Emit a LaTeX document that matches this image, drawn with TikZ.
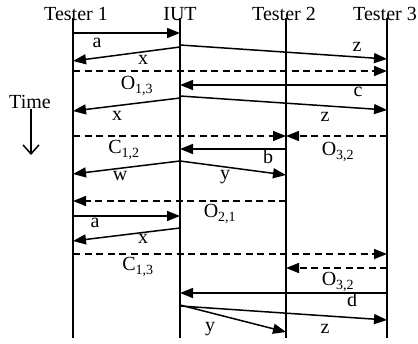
\documentclass[tikz,border=0pt]{standalone}
\usepackage{fontspec}
\setmainfont{Liberation Serif}
\usetikzlibrary{arrows.meta}

\begin{document}
\begin{tikzpicture}[x=1pt,y=-1pt]
  \useasboundingbox (0,0) rectangle (418,343);
  \tikzset{LifeStyle/.style={line width=1.6pt},
           MsgStyle/.style={line width=1.5pt,-{Triangle[length=13pt,width=10pt]}},
           CtrlStyle/.style={MsgStyle,dash pattern=on 7pt off 4.5pt},
           LabelStyle/.style={inner sep=0pt,font=\fontsize{20}{20}\selectfont}}
  % headers
  \node[LabelStyle,anchor=base] (T1) at (76,20) {Tester 1};
  \node[LabelStyle,anchor=base] (IUT) at (180,20) {IUT};
  \node[LabelStyle,anchor=base] (T2) at (284,20) {Tester 2};
  \node[LabelStyle,anchor=base] (T3) at (385,20) {Tester 3};
  % lifelines
  \foreach \n/\x in {T1/73,IUT/180,T2/286,T3/387}{
    \coordinate (\n top) at (\x,18);
    \coordinate (\n bot) at (\x,338);
    \draw[LifeStyle] (\n top) -- (\n bot);
  }
  % time
  \node[LabelStyle] (time) at (30,102) {Time};
  \coordinate (time1) at (31,109);
  \coordinate (time2) at (31,155);
  \draw[line width=1.5pt,-{Straight Barb[length=9pt,width=16pt]}] (time1) -- (time2);
  % event points
  \coordinate (a1s) at (73,33);   \coordinate (a1e) at (180,33);
  \coordinate (x1s) at (180,47);  \coordinate (x1e) at (73,61);
  \coordinate (z1s) at (180,45);  \coordinate (z1e) at (387,59);
  \coordinate (o13s) at (73,71);  \coordinate (o13e) at (387,71);
  \coordinate (cs) at (387,85);   \coordinate (ce) at (180,85);
  \coordinate (x2s) at (180,98);  \coordinate (x2e) at (73,111);
  \coordinate (z2s) at (180,96);  \coordinate (z2e) at (387,110);
  \coordinate (c12s) at (73,136); \coordinate (c12e) at (286,136);
  \coordinate (o32s) at (387,136);\coordinate (o32e) at (286,136);
  \coordinate (bs) at (286,149);  \coordinate (be) at (180,149);
  \coordinate (ws) at (180,161);  \coordinate (we) at (73,174);
  \coordinate (y1s) at (180,161); \coordinate (y1e) at (286,175);
  \coordinate (o21s) at (286,201);\coordinate (o21e) at (73,201);
  \coordinate (a2s) at (73,216);  \coordinate (a2e) at (180,216);
  \coordinate (x3s) at (180,228); \coordinate (x3e) at (73,241);
  \coordinate (c13s) at (73,254); \coordinate (c13e) at (387,254);
  \coordinate (o32bs) at (387,268);\coordinate (o32be) at (286,268);
  \coordinate (ds) at (387,293);  \coordinate (de) at (180,293);
  \coordinate (y2s) at (180,305); \coordinate (y2e) at (286,332);
  \coordinate (z3s) at (180,306); \coordinate (z3e) at (387,320);
  % messages
  \draw[MsgStyle] (a1s) -- (a1e);
  \draw[MsgStyle] (x1s) -- (x1e);
  \draw[MsgStyle] (z1s) -- (z1e);
  \draw[CtrlStyle] (o13s) -- (o13e);
  \draw[MsgStyle] (cs) -- (ce);
  \draw[MsgStyle] (x2s) -- (x2e);
  \draw[MsgStyle] (z2s) -- (z2e);
  \draw[CtrlStyle] (c12s) -- (c12e);
  \draw[CtrlStyle] (o32s) -- (o32e);
  \draw[MsgStyle] (bs) -- (be);
  \draw[MsgStyle] (ws) -- (we);
  \draw[MsgStyle] (y1s) -- (y1e);
  \draw[CtrlStyle] (o21s) -- (o21e);
  \draw[MsgStyle] (a2s) -- (a2e);
  \draw[MsgStyle] (x3s) -- (x3e);
  \draw[CtrlStyle] (c13s) -- (c13e);
  \draw[CtrlStyle] (o32bs) -- (o32be);
  \draw[MsgStyle] (ds) -- (de);
  \draw[MsgStyle] (y2s) -- (y2e);
  \draw[MsgStyle] (z3s) -- (z3e);
  % labels
  \node[LabelStyle] (la1) at (97,43) {a};
  \node[LabelStyle] (lx1) at (143,60) {x};
  \node[LabelStyle] (lz1) at (357,47) {z};
  \node[LabelStyle] (lo13) at (137,86) {O\textsubscript{1,3}};
  \node[LabelStyle] (lc) at (358,92) {c};
  \node[LabelStyle] (lx2) at (117,116) {x};
  \node[LabelStyle] (lz2) at (325,117) {z};
  \node[LabelStyle] (lc12) at (124,150) {C\textsubscript{1,2}};
  \node[LabelStyle] (lo32) at (338,152) {O\textsubscript{3,2}};
  \node[LabelStyle] (lb) at (268,157) {b};
  \node[LabelStyle] (lw) at (120,176) {w};
  \node[LabelStyle] (ly1) at (225,177) {y};
  \node[LabelStyle] (lo21) at (220,214) {O\textsubscript{2,1}};
  \node[LabelStyle] (la2) at (95,223) {a};
  \node[LabelStyle] (lx3) at (143,239) {x};
  \node[LabelStyle] (lc13) at (138,267) {C\textsubscript{1,3}};
  \node[LabelStyle] (lo32b) at (338,282) {O\textsubscript{3,2}};
  \node[LabelStyle] (ld) at (352,300) {d};
  \node[LabelStyle] (ly2) at (210,329) {y};
  \node[LabelStyle] (lz3) at (325,329) {z};
\end{tikzpicture}
\end{document}
